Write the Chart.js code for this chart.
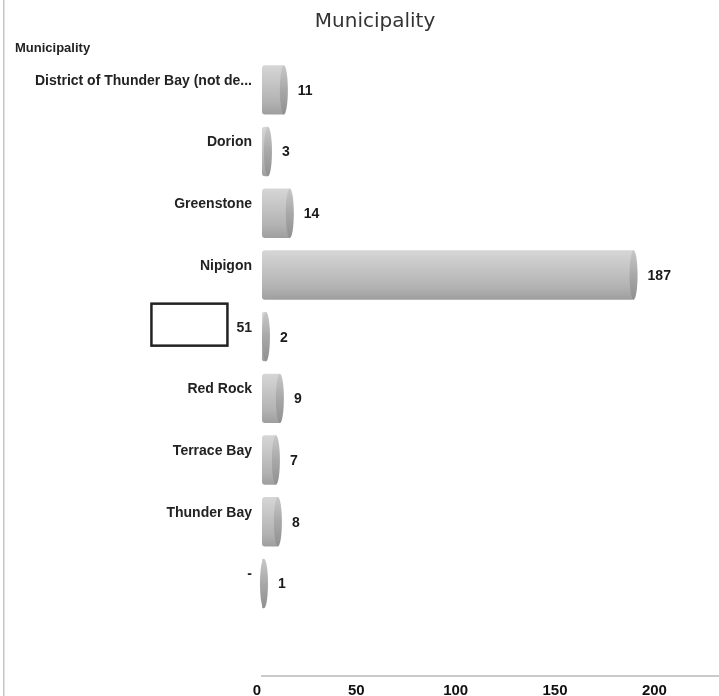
<!DOCTYPE html>
<html>
<head>
<meta charset="utf-8">
<title>Municipality</title>
<script src="https://cdn.jsdelivr.net/npm/chart.js@4/dist/chart.umd.min.js"></script>
<style>
  html, body { margin: 0; padding: 0; background: #ffffff; }
  #wrap { position: relative; width: 719px; height: 696px; }
</style>
</head>
<body>
<div id="wrap"><canvas id="chart" width="719" height="696"></canvas></div>
<script>
// Records per municipality
const categories = [
  'District of Thunder Bay (not de...',
  'Dorion',
  'Greenstone',
  'Nipigon',
  '51',
  'Red Rock',
  'Terrace Bay',
  'Thunder Bay',
  '-',
  ''
];
const counts = [11, 3, 14, 187, 2, 9, 7, 8, 1, null];
const xTicks = [0, 50, 100, 150, 200];
const chartTitle = 'Municipality';
const axisTitle = 'Municipality';
const maskedIndex = 4;   // category whose name is blanked out with a box

const FONT = "'Liberation Sans', Arial, sans-serif";
const BAR_PCT = 0.8;
const CAP_RX = 4;

function barGradient(ctx, top, bottom, stops) {
  const g = ctx.createLinearGradient(0, top, 0, bottom);
  stops.forEach(([p, c]) => g.addColorStop(p, c));
  return g;
}

// Cylinder-style fill: light on top, darker underneath
function barFill(context) {
  const chart = context.chart;
  const area = chart.chartArea;
  if (!area || !chart.scales.y) return '#b8b8b8';
  const y = chart.scales.y.getPixelForValue(context.dataIndex);
  const h = (area.bottom - area.top) / categories.length * BAR_PCT;
  return barGradient(chart.ctx, y - h / 2, y + h / 2, [
    [0, '#d6d6d6'], [0.3, '#c8c8c8'], [0.75, '#b2b2b2'], [1, '#9e9e9e']
  ]);
}

const decorations = {
  id: 'decorations',
  beforeDraw(chart) {
    const ctx = chart.ctx;
    ctx.save();
    // thin frame line on the left edge
    ctx.fillStyle = '#c6c6c6';
    ctx.fillRect(3, 0, 1.5, chart.height);
    // chart title
    ctx.fillStyle = '#333333';
    ctx.font = "20px 'DejaVu Sans', Verdana, sans-serif";
    ctx.textAlign = 'center';
    ctx.textBaseline = 'middle';
    ctx.fillText(chartTitle, 375, 22);
    // category axis title
    ctx.fillStyle = '#222222';
    ctx.font = 'bold 13px ' + FONT;
    ctx.textAlign = 'left';
    ctx.fillText(axisTitle, 15, 48);
    ctx.restore();
  },
  afterDatasetsDraw(chart) {
    const ctx = chart.ctx;
    const meta = chart.getDatasetMeta(0);
    ctx.save();
    meta.data.forEach((bar, i) => {
      const v = counts[i];
      if (v === null || v === undefined) return;
      const h = bar.height;
      // rounded end of the cylinder
      ctx.beginPath();
      ctx.ellipse(bar.x, bar.y, CAP_RX, h / 2, 0, 0, Math.PI * 2);
      ctx.fillStyle = barGradient(ctx, bar.y - h / 2, bar.y + h / 2, [
        [0, '#c8c8c8'], [0.5, '#a8a8a8'], [1, '#909090']
      ]);
      ctx.fill();
      // value label
      ctx.fillStyle = '#1a1a1a';
      ctx.font = 'bold 14px ' + FONT;
      ctx.textAlign = 'left';
      ctx.textBaseline = 'middle';
      ctx.fillText(String(v), bar.x + CAP_RX + 10, bar.y + 1);
    });
    ctx.restore();
  },
  afterDraw(chart) {
    // box over the blanked category name
    const ctx = chart.ctx;
    const ys = chart.scales.y;
    const yc = ys.getPixelForValue(maskedIndex) - 12;
    ctx.save();
    ctx.font = 'bold 14px ' + FONT;
    const tw = ctx.measureText(categories[maskedIndex]).width;
    const right = ys.right - 10 - tw - 9;
    ctx.strokeStyle = '#222222';
    ctx.lineWidth = 2.5;
    ctx.strokeRect(right - 76, yc - 21, 76, 42);
    ctx.restore();
  }
};

new Chart(document.getElementById('chart'), {
  type: 'bar',
  data: {
    labels: categories,
    datasets: [{
      label: chartTitle,
      data: counts,
      backgroundColor: barFill,
      borderWidth: 0,
      borderRadius: { topLeft: 3, bottomLeft: 3 },
      borderSkipped: false,
      barPercentage: BAR_PCT,
      categoryPercentage: 1
    }]
  },
  options: {
    indexAxis: 'y',
    responsive: false,
    animation: false,
    layout: { padding: { top: 59, left: 0, right: 0, bottom: 0 } },
    plugins: {
      legend: { display: false },
      title: { display: false },
      tooltip: { enabled: false }
    },
    scales: {
      x: {
        min: 0,
        max: 230,
        grid: { display: false, drawTicks: false },
        border: { display: true, color: '#cacaca', width: 2 },
        ticks: {
          padding: 6,
          labelOffset: -5,
          color: '#111111',
          font: { family: FONT, size: 15, weight: 'bold' }
        },
        afterBuildTicks(scale) {
          scale.ticks = xTicks.map(v => ({ value: v }));
        },
        afterFit(scale) { scale.height = 20; }
      },
      y: {
        grid: { display: false, drawTicks: false },
        border: { display: false },
        ticks: {
          padding: 10,
          labelOffset: -9,
          color: '#222222',
          autoSkip: false,
          font: { family: FONT, size: 14, weight: 'bold' }
        },
        afterFit(scale) { scale.width = 262; }
      }
    }
  },
  plugins: [decorations]
});
</script>
</body>
</html>
